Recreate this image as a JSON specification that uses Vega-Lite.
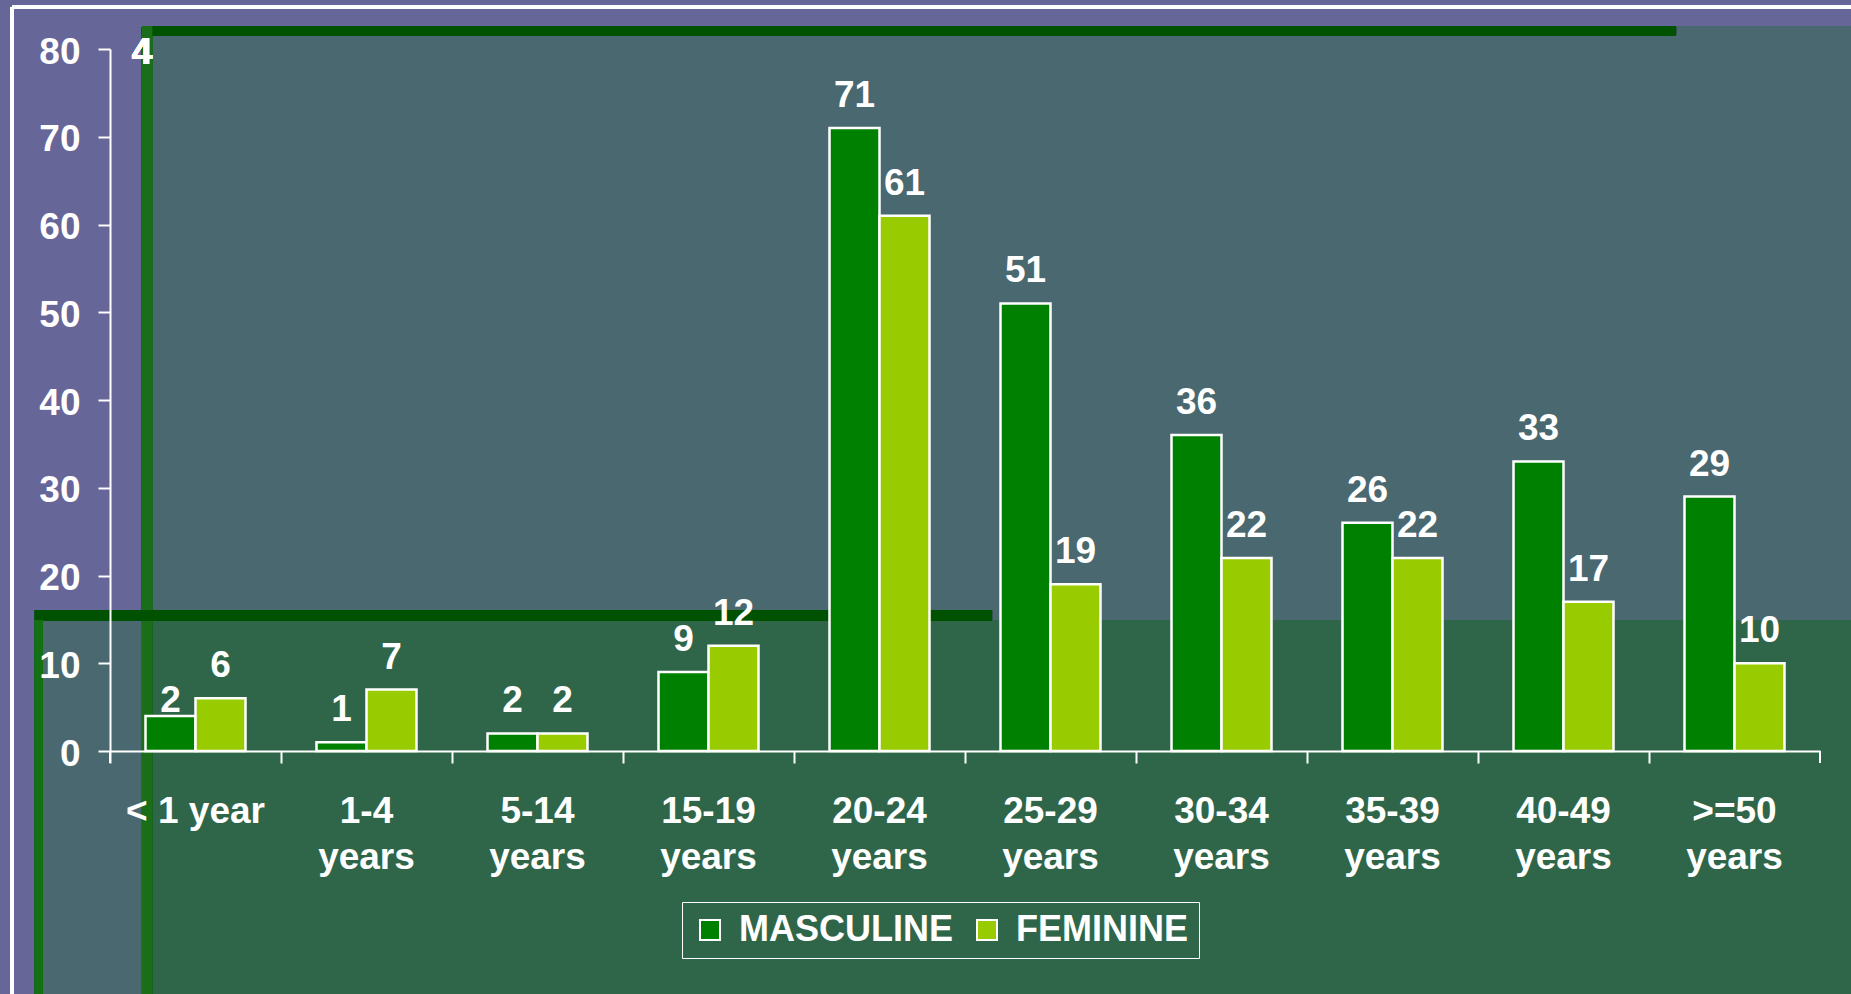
{
  "$schema": "https://vega.github.io/schema/vega-lite/v6.json",
  "autosize": "none",
  "width": 1710,
  "height": 702,
  "padding": {"left": 110, "top": 49, "right": 31, "bottom": 243},
  "background": "#666699",
  "config": {
    "view": {"stroke": null},
    "font": "Liberation Sans",
    "text": {"font": "Liberation Sans"}
  },
  "data": {
    "values": [
      {"age": "< 1 year", "sex": "MASCULINE", "value": 4, "label": 2},
      {"age": "< 1 year", "sex": "FEMININE", "value": 6, "label": 6},
      {"age": "1-4 years", "sex": "MASCULINE", "value": 1, "label": 1},
      {"age": "1-4 years", "sex": "FEMININE", "value": 7, "label": 7},
      {"age": "5-14 years", "sex": "MASCULINE", "value": 2, "label": 2},
      {"age": "5-14 years", "sex": "FEMININE", "value": 2, "label": 2},
      {"age": "15-19 years", "sex": "MASCULINE", "value": 9, "label": 9},
      {"age": "15-19 years", "sex": "FEMININE", "value": 12, "label": 12},
      {"age": "20-24 years", "sex": "MASCULINE", "value": 71, "label": 71},
      {"age": "20-24 years", "sex": "FEMININE", "value": 61, "label": 61},
      {"age": "25-29 years", "sex": "MASCULINE", "value": 51, "label": 51},
      {"age": "25-29 years", "sex": "FEMININE", "value": 19, "label": 19},
      {"age": "30-34 years", "sex": "MASCULINE", "value": 36, "label": 36},
      {"age": "30-34 years", "sex": "FEMININE", "value": 22, "label": 22},
      {"age": "35-39 years", "sex": "MASCULINE", "value": 26, "label": 26},
      {"age": "35-39 years", "sex": "FEMININE", "value": 22, "label": 22},
      {"age": "40-49 years", "sex": "MASCULINE", "value": 33, "label": 33},
      {"age": "40-49 years", "sex": "FEMININE", "value": 17, "label": 17},
      {"age": ">=50 years", "sex": "MASCULINE", "value": 29, "label": 29},
      {"age": ">=50 years", "sex": "FEMININE", "value": 10, "label": 10}
    ]
  },
  "resolve": {"scale": {"x": "independent"}, "axis": {"x": "independent"}},
  "layer": [
    {
      "encoding": {},
      "layer": [
        {
          "mark": {"type": "rect", "fill": "#49686f"},
          "encoding": {
            "x": {"datum": 0.187, "type": "quantitative", "scale": {"domain": [0, 10], "nice": false, "zero": false}, "axis": null},
            "x2": {"datum": 10.5},
            "y": {"datum": 82.6, "type": "quantitative"},
            "y2": {"datum": -30}
          }
        },
        {
          "mark": {"type": "rect", "fill": "#49686f"},
          "encoding": {
            "x": {"datum": -0.439, "type": "quantitative", "axis": null},
            "x2": {"datum": 10.5},
            "y": {"datum": 16.07, "type": "quantitative"},
            "y2": {"datum": -30}
          }
        },
        {
          "mark": {"type": "rect", "fill": "#2f6649"},
          "encoding": {
            "x": {"datum": 0.246, "type": "quantitative", "axis": null},
            "x2": {"datum": 10.5},
            "y": {"datum": 14.9, "type": "quantitative"},
            "y2": {"datum": -30}
          }
        },
        {
          "mark": {"type": "rect", "fill": "#005200"},
          "encoding": {
            "x": {"datum": 0.187, "type": "quantitative", "axis": null},
            "x2": {"datum": 9.158},
            "y": {"datum": 82.6, "type": "quantitative"},
            "y2": {"datum": 81.5}
          }
        },
        {
          "mark": {"type": "rect", "fill": "#1a6e1a"},
          "encoding": {
            "x": {"datum": 0.187, "type": "quantitative", "axis": null},
            "x2": {"datum": 0.246},
            "y": {"datum": 82.6, "type": "quantitative"},
            "y2": {"datum": -30}
          }
        },
        {
          "mark": {"type": "rect", "fill": "#005200"},
          "encoding": {
            "x": {"datum": -0.439, "type": "quantitative", "axis": null},
            "x2": {"datum": 5.158},
            "y": {"datum": 16.07, "type": "quantitative"},
            "y2": {"datum": 14.9}
          }
        },
        {
          "mark": {"type": "rect", "fill": "#137013"},
          "encoding": {
            "x": {"datum": -0.439, "type": "quantitative", "axis": null},
            "x2": {"datum": -0.392},
            "y": {"datum": 14.9, "type": "quantitative"},
            "y2": {"datum": -30}
          }
        },
        {
          "mark": {"type": "rule", "stroke": "white", "strokeWidth": 3},
          "encoding": {
            "x": {"datum": -0.573, "type": "quantitative", "axis": null},
            "y": {"datum": 84.8, "type": "quantitative"},
            "y2": {"datum": -30}
          }
        },
        {
          "mark": {"type": "rule", "stroke": "white", "strokeWidth": 3},
          "encoding": {
            "x": {"datum": -0.573, "type": "quantitative", "axis": null},
            "x2": {"datum": 10.5},
            "y": {"datum": 84.8, "type": "quantitative"}
          }
        },
        {
          "mark": {"type": "rule", "stroke": "white", "strokeWidth": 2},
          "encoding": {
            "x": {"datum": 0, "type": "quantitative", "axis": null},
            "y": {"datum": 0, "type": "quantitative"},
            "y2": {"datum": -1.3}
          }
        },
        {
          "mark": {"type": "rule", "stroke": "white", "strokeWidth": 2},
          "encoding": {
            "x": {"datum": 10, "type": "quantitative", "axis": null},
            "y": {"datum": 0, "type": "quantitative"},
            "y2": {"datum": -1.3}
          }
        },
        {
          "mark": {"type": "text", "color": "white", "fontSize": 37, "fontWeight": "bold", "baseline": "middle", "align": "center"},
          "encoding": {
            "x": {"datum": 0.187, "type": "quantitative", "axis": null},
            "y": {"datum": 79.5, "type": "quantitative"},
            "text": {"value": "4"}
          }
        }
      ]
    },
    {
      "encoding": {
        "x": {
          "field": "age",
          "type": "nominal",
          "sort": ["< 1 year", "1-4 years", "5-14 years", "15-19 years", "20-24 years", "25-29 years", "30-34 years", "35-39 years", "40-49 years", ">=50 years"],
          "scale": {"paddingInner": 0, "paddingOuter": 0},
          "title": null,
          "axis": {
            "zindex": 1,
            "domainColor": "white",
            "domainWidth": 2,
            "tickColor": "white",
            "tickWidth": 2,
            "tickSize": 12,
            "bandPosition": 0,
            "labelAngle": 0,
            "labelColor": "white",
            "labelFont": "Liberation Sans",
            "labelFontSize": 37,
            "labelFontWeight": "bold",
            "labelLineHeight": 46,
            "labelPadding": 30,
            "labelLimit": 400,
            "labelExpr": "datum.label == '< 1 year' ? datum.label : split(datum.label, ' ')"
          }
        },
        "xOffset": {"field": "sex", "type": "nominal", "sort": ["MASCULINE", "FEMININE"], "scale": {"paddingInner": 0, "paddingOuter": 0.71}}
      },
      "layer": [
        {
          "mark": {"type": "bar", "stroke": "white", "strokeWidth": 2.5},
          "encoding": {
            "y": {
              "field": "value",
              "type": "quantitative",
              "scale": {"domain": [0, 80], "nice": false},
              "title": null,
              "axis": {
                "zindex": 1,
                "values": [0, 10, 20, 30, 40, 50, 60, 70, 80],
                "grid": false,
                "domainColor": "white",
                "domainWidth": 2,
                "tickColor": "white",
                "tickWidth": 2,
                "tickSize": 12,
                "labelColor": "white",
                "labelFont": "Liberation Sans",
                "labelFontSize": 37,
                "labelFontWeight": "bold",
                "labelPadding": 18,
                "labelOffset": 3
              }
            },
            "color": {
              "field": "sex",
              "type": "nominal",
              "scale": {"domain": ["MASCULINE", "FEMININE"], "range": ["#008000", "#99cc00"]},
              "legend": {
                "title": null,
                "orient": "none",
                "direction": "horizontal",
                "legendX": 572,
                "legendY": 853,
                "strokeColor": "white",
                "padding": 10,
                "columnPadding": 16,
                "labelOffset": 11,
                "labelLimit": 500,
                "labelColor": "white",
                "labelFont": "Liberation Sans",
                "labelFontSize": 36,
                "labelFontWeight": "bold",
                "symbolType": "square",
                "symbolSize": 400,
                "symbolStrokeColor": "white",
                "symbolStrokeWidth": 2,
                "symbolOpacity": 1
              }
            }
          }
        },
        {
          "mark": {"type": "text", "color": "white", "fontSize": 37, "fontWeight": "bold", "baseline": "middle", "align": "center", "dy": -32},
          "encoding": {
            "y": {"field": "label", "type": "quantitative"},
            "text": {"field": "label", "type": "quantitative"}
          }
        }
      ]
    }
  ]
}
